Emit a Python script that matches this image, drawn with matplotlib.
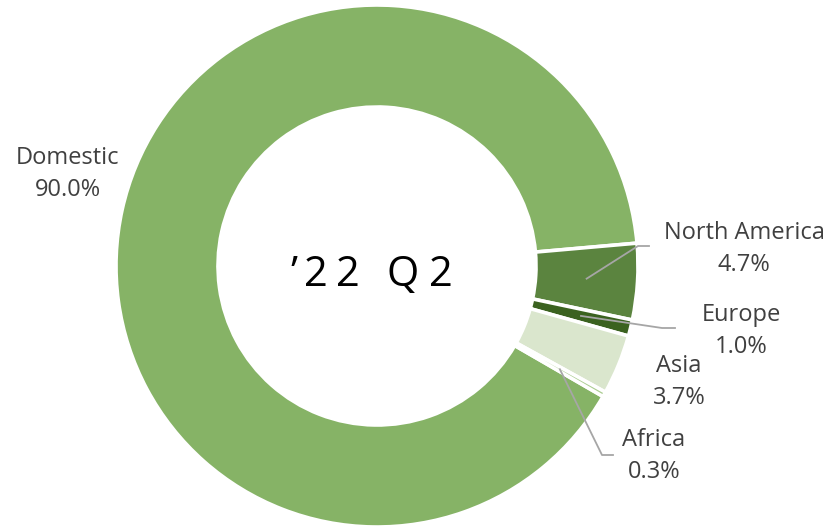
import numpy as np
import matplotlib.pyplot as plt

# --- dane ---
regions = ["Domestic", "North America", "Europe", "Asia", "Africa"]
shares = [90.0, 4.7, 1.0, 3.7, 0.3]
colors = ["#86B366", "#5B843F", "#3B6220", "#DAE6CD", "#A9CC8F"]
center_label = "’22 Q2"

# --- wykres ---
W, H = 831, 528
fig = plt.figure(figsize=(W / 100, H / 100), dpi=100)
ax = fig.add_axes([0, 0, 1, 1])

cx, cy = 377, H - 266
R, ring = 261, 102

wedges, _ = ax.pie(
    shares, colors=colors, startangle=-30, counterclock=False,
    center=(cx, cy), radius=R,
    wedgeprops=dict(width=ring, edgecolor="white", linewidth=2.6),
)
ax.set_xlim(0, W)
ax.set_ylim(0, H)
ax.set_aspect("equal")
ax.axis("off")

# etykiety: (środek tekstu x, y od góry), łamana linii (lub None)
label_pos = [(68, 174), (744, 249), (741, 331), (679, 382), (654, 456)]
leaders = [None, [(638, 246), (649, 246)], [(662, 328), (675, 328)], None,
           [(602, 455), (613, 455)]]

for w, name, val, (lx, ly), lead in zip(wedges, regions, shares, label_pos, leaders):
    ax.text(lx, H - ly, f"{name}\n{val:.1f}%", ha="center", va="center",
            fontsize=17, color="#404040", family="Open Sans", linespacing=1.4)
    if lead is not None:
        mid = np.deg2rad((w.theta1 + w.theta2) / 2)
        r_mid = R - ring / 2
        xs = [cx + r_mid * np.cos(mid)] + [p[0] for p in lead]
        ys = [cy + r_mid * np.sin(mid)] + [H - p[1] for p in lead]
        ax.plot(xs, ys, color="#A6A6A6", lw=1.3)

# tekst w środku z rozstrzelonymi znakami
char_x = [294, 316, 347.5, None, 402.5, 441]
for ch, x in zip(center_label, char_x):
    if x is None:
        continue
    ax.text(x, H - 275, ch, ha="center", va="center", fontsize=30,
            color="black", family="Open Sans")

fig.savefig("out.png", dpi=100)
